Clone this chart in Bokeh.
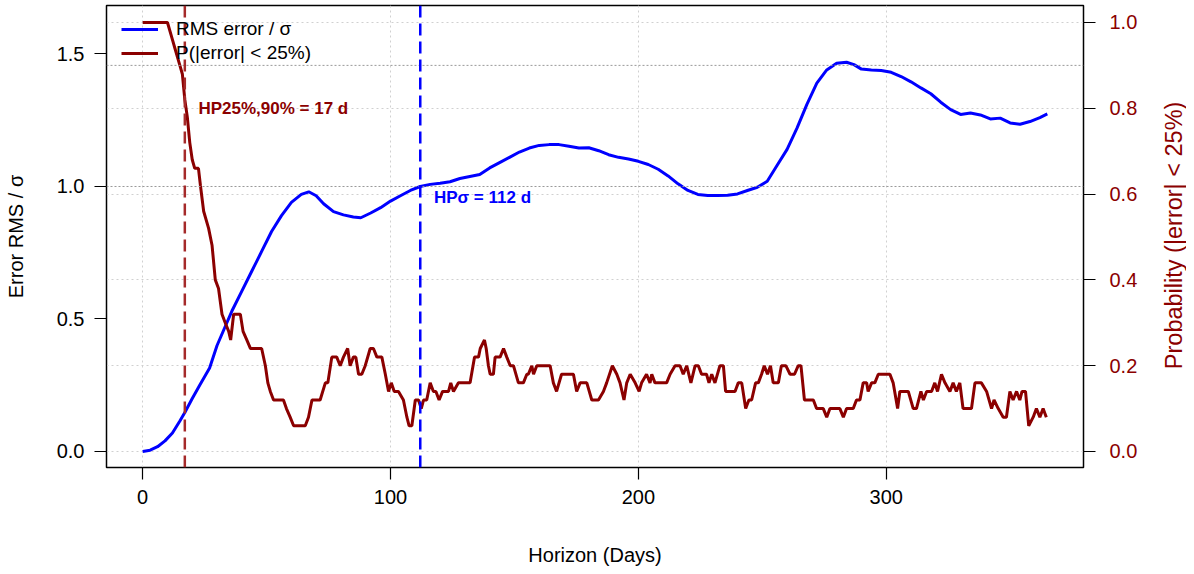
import math
from bokeh.plotting import figure
from bokeh.layouts import row
from bokeh.models import (Range1d, LinearAxis, FixedTicker, Span, Grid, Legend,
                          LegendItem, PrintfTickFormatter, Label)
from bokeh.embed import file_html
from bokeh.resources import INLINE

# ---------------- data ----------------
days_rms = [0, 3, 6, 9, 12, 15, 17, 20, 23, 27,
            30, 33, 36, 40, 44, 48, 52, 56, 60, 64,
            67, 70, 73, 77, 81, 85, 88, 92, 96, 100,
            104, 108, 112, 116, 120, 124, 128, 132, 136, 140,
            144, 148, 152, 156, 160, 164, 168, 172, 176, 180,
            184, 188, 192, 196, 200, 204, 208, 212, 216, 220,
            224, 228, 232, 236, 240, 244, 248, 252, 256, 260,
            264, 268, 272, 276, 280, 284, 287, 290, 294, 298,
            302, 306, 310, 314, 318, 322, 326, 330, 334, 338,
            342, 346, 350, 354, 358, 362, 365]
rms = [0.000, 0.005, 0.018, 0.040, 0.070, 0.115, 0.147, 0.200, 0.250, 0.315,
       0.400, 0.465, 0.530, 0.605, 0.680, 0.755, 0.830, 0.890, 0.940, 0.970,
       0.980, 0.965, 0.935, 0.905, 0.893, 0.885, 0.882, 0.900, 0.920, 0.945,
       0.965, 0.985, 1.000, 1.008, 1.012, 1.018, 1.030, 1.038, 1.045, 1.070,
       1.090, 1.110, 1.130, 1.145, 1.155, 1.158, 1.158, 1.152, 1.145, 1.146,
       1.135, 1.120, 1.110, 1.104, 1.095, 1.083, 1.065, 1.040, 1.010, 0.985,
       0.970, 0.966, 0.966, 0.967, 0.972, 0.985, 0.997, 1.020, 1.080, 1.140,
       1.220, 1.310, 1.390, 1.440, 1.465, 1.469, 1.460, 1.443, 1.440, 1.438,
       1.431, 1.415, 1.395, 1.372, 1.350, 1.318, 1.290, 1.272, 1.277, 1.270,
       1.255, 1.258, 1.240, 1.235, 1.245, 1.260, 1.274]

days_p = [0, 10, 12, 13, 14, 15, 16, 17, 18, 19,
          20, 21, 22.5, 23.3, 24.6, 26.6, 28, 29.3, 30.6, 32,
          33.3, 34.7, 35.5, 36.7, 39.4, 40.5, 42, 43.5, 48, 49.5,
          50.5, 51.5, 52.8, 56.8, 58, 59.5, 60.9, 65.6, 66.9, 68.3,
          71.6, 73.7, 74.7, 76.3, 78.3, 79.7, 81, 82.7, 83.7, 85,
          86, 87.1, 88.4, 89.8, 91.8, 93.1, 94.5, 96.5, 97.9, 99.2,
          100.3, 101.5, 103.2, 105.2, 106.6, 107.5, 108.6, 110, 111.3, 112.4,
          113.3, 114.6, 116, 117.3, 118.3, 119.6, 121, 123.4, 124.3, 125.4,
          127.4, 132.1, 133.9, 135.5, 136.2, 137.9, 138.6, 139.5, 140.2, 141.5,
          142.2, 144.2, 145.6, 146.9, 148.3, 149.6, 151.6, 153.6, 155, 155.6,
          157, 157.7, 159, 164.4, 165.7, 167, 169, 173.8, 175.1, 176.5,
          179.2, 181.2, 183.9, 185.9, 187.2, 189.5, 191.3, 192.6, 194.2, 195.3,
          196.7, 198.7, 200.3, 201.3, 203.3, 204.7, 205.4, 206.7, 211.4, 212.8,
          214.8, 216.8, 218.1, 219.5, 221.2, 222.9, 224.2, 225.5, 227.5, 228.5,
          229.6, 230.9, 232.9, 234.3, 235.2, 239, 240.3, 241.7, 243.3, 244.6,
          245.7, 247.3, 248.4, 249.7, 250.8, 252.1, 253.3, 254.4, 256.5, 257.7,
          259.5, 261.2, 263, 264.5, 265.6, 267, 270.6, 271.9, 274.6, 276,
          277.3, 281.3, 282.7, 284, 286.7, 288, 289.4, 290.7, 292.1, 292.7,
          294.1, 295.4, 296.8, 301.5, 302.8, 304.6, 305.5, 308.9, 310.9, 312.2,
          314, 315, 316.3, 318.3, 319.6, 320.7, 322.3, 323.7, 325.7, 327,
          328.3, 329.7, 331, 334.4, 335.8, 338.4, 340.5, 342.5, 343.5, 345.2,
          347.2, 348.5, 349.9, 351.2, 352.6, 353.9, 354.8, 356.2, 357.5, 359.3,
          360.6, 362, 363.3, 364.6]
prob = [1.00, 1.00, 0.96, 0.94, 0.92, 0.90, 0.88, 0.82, 0.78, 0.72,
        0.68, 0.66, 0.66, 0.62, 0.56, 0.52, 0.48, 0.40, 0.38, 0.32,
        0.30, 0.28, 0.26, 0.32, 0.32, 0.28, 0.26, 0.24, 0.24, 0.20,
        0.16, 0.14, 0.12, 0.12, 0.10, 0.08, 0.06, 0.06, 0.08, 0.12,
        0.12, 0.16, 0.16, 0.22, 0.22, 0.20, 0.22, 0.24, 0.20, 0.22,
        0.22, 0.18, 0.18, 0.20, 0.24, 0.24, 0.22, 0.22, 0.18, 0.14,
        0.16, 0.14, 0.14, 0.12, 0.08, 0.06, 0.06, 0.12, 0.12, 0.10,
        0.12, 0.12, 0.16, 0.14, 0.14, 0.12, 0.14, 0.14, 0.16, 0.14,
        0.16, 0.16, 0.22, 0.22, 0.24, 0.26, 0.24, 0.20, 0.18, 0.18,
        0.22, 0.22, 0.24, 0.22, 0.20, 0.20, 0.16, 0.16, 0.18, 0.18,
        0.20, 0.18, 0.20, 0.20, 0.16, 0.14, 0.18, 0.18, 0.14, 0.16,
        0.16, 0.12, 0.12, 0.14, 0.16, 0.20, 0.18, 0.16, 0.12, 0.16,
        0.18, 0.16, 0.14, 0.16, 0.18, 0.16, 0.18, 0.16, 0.16, 0.18,
        0.20, 0.20, 0.18, 0.20, 0.16, 0.20, 0.20, 0.18, 0.18, 0.16,
        0.18, 0.16, 0.20, 0.20, 0.14, 0.14, 0.16, 0.16, 0.10, 0.12,
        0.12, 0.16, 0.16, 0.18, 0.20, 0.18, 0.20, 0.16, 0.16, 0.20,
        0.20, 0.18, 0.18, 0.20, 0.20, 0.12, 0.12, 0.10, 0.10, 0.08,
        0.10, 0.10, 0.08, 0.10, 0.10, 0.12, 0.12, 0.16, 0.16, 0.14,
        0.16, 0.16, 0.18, 0.18, 0.16, 0.10, 0.14, 0.14, 0.10, 0.10,
        0.14, 0.12, 0.14, 0.14, 0.16, 0.14, 0.18, 0.16, 0.14, 0.16,
        0.14, 0.16, 0.10, 0.10, 0.16, 0.16, 0.14, 0.10, 0.12, 0.10,
        0.08, 0.08, 0.14, 0.12, 0.14, 0.12, 0.14, 0.14, 0.06, 0.08,
        0.10, 0.08, 0.10, 0.08]

hp_sigma = 112       # days, RMS/sigma reaches 1
hp_25 = 17           # days, P(|error|<25%) drops below 90 %
sigma_level = 1.0
prob_level = 0.9

x_ticks = [0, 100, 200, 300]
left_ticks = [0.0, 0.5, 1.0, 1.5]
right_ticks = [0.0, 0.2, 0.4, 0.6, 0.8, 1.0]

assert len(days_rms) == len(rms)
assert len(days_p) == len(prob)

# ---------------- figure ----------------
FONT = "Liberation Sans"
DARKRED = "#8b0000"
BORDER_TOP, FRAME_H, BORDER_BOTTOM = 5, 462, 98
TOTAL_H = BORDER_TOP + FRAME_H + BORDER_BOTTOM

p = figure(frame_width=977, frame_height=FRAME_H,
           min_border_left=106, min_border_right=77,
           min_border_top=BORDER_TOP, min_border_bottom=BORDER_BOTTOM,
           x_range=Range1d(-14.6, 379.6), y_range=Range1d(-0.0604, 1.683),
           output_backend="svg", toolbar_location=None)
p.extra_y_ranges = {"prob": Range1d(-0.0373, 1.0396)}
p.background_fill_color = "white"
p.border_fill_color = "white"
p.outline_line_color = "black"
p.outline_line_width = 1.5
p.outline_line_alpha = 1.0


def style_axis(ax, size="20px", color="black"):
    ax.major_tick_out = 12
    ax.major_tick_in = 0
    ax.minor_tick_out = 0
    ax.minor_tick_in = 0
    ax.axis_line_color = "black"
    ax.major_tick_line_color = "black"
    ax.major_tick_line_width = 1.2
    ax.major_label_text_font = FONT
    ax.major_label_text_font_size = size
    ax.major_label_text_color = color
    ax.axis_label_text_font = FONT
    ax.axis_label_text_font_size = size
    ax.axis_label_text_font_style = "normal"
    ax.axis_label_text_color = color


# bottom axis
xa = p.xaxis[0]
xa.ticker = FixedTicker(ticks=x_ticks)
xa.formatter = PrintfTickFormatter(format="%d")
xa.axis_label = "Horizon (Days)"
style_axis(xa)
xa.major_label_standoff = 10
xa.axis_label_standoff = 37

# left axis
ya = p.yaxis[0]
ya.ticker = FixedTicker(ticks=left_ticks)
ya.formatter = PrintfTickFormatter(format="%.1f")
ya.axis_label = "Error RMS / σ"
style_axis(ya)
ya.major_label_standoff = 10
ya.axis_label_standoff = 27

# right axis (title drawn in a narrow strip beside, reading bottom to top)
ra = LinearAxis(y_range_name="prob", ticker=FixedTicker(ticks=right_ticks),
                formatter=PrintfTickFormatter(format="%.1f"))
style_axis(ra, color=DARKRED)
ra.major_label_standoff = 14
p.add_layout(ra, "right")

# grids
p.xgrid.ticker = FixedTicker(ticks=x_ticks)
p.xgrid.grid_line_color = "#d0d0d0"
p.xgrid.grid_line_dash = "2 3"
p.xgrid.grid_line_width = 1
p.ygrid.visible = False
p.add_layout(Grid(dimension=1, ticker=FixedTicker(ticks=right_ticks),
                  y_range_name="prob", grid_line_color="#d0d0d0",
                  grid_line_dash="2 3", grid_line_width=1))

# reference levels
p.add_layout(Span(location=sigma_level, dimension="width", line_color="#999999",
                  line_dash="2 2", line_width=1))
p.add_layout(Span(location=prob_level, dimension="width", y_range_name="prob",
                  line_color="#999999", line_dash="2 2", line_width=1))

# curves
r1 = p.line(days_rms, rms, line_color="blue", line_width=3)
r2 = p.line(days_p, prob, line_color=DARKRED, line_width=3, y_range_name="prob")

# horizon markers
p.add_layout(Span(location=hp_25, dimension="height", line_color="#a52a2a",
                  line_dash="12 6", line_width=2.5))
p.add_layout(Span(location=hp_sigma, dimension="height", line_color="blue",
                  line_dash="12 6", line_width=2.5))

p.add_layout(Label(x=hp_25 + 5.5, y=0.8, y_range_name="prob",
                   text=f"HP25%,90% = {hp_25} d", text_font=FONT,
                   text_font_size="17px", text_font_style="bold",
                   text_color=DARKRED, text_baseline="middle"))
p.add_layout(Label(x=hp_sigma + 5.5, y=0.96,
                   text=f"HPσ = {hp_sigma} d", text_font=FONT,
                   text_font_size="17px", text_font_style="bold",
                   text_color="blue", text_baseline="middle"))

legend = Legend(items=[LegendItem(label="RMS error / σ", renderers=[r1]),
                       LegendItem(label="P(|error| < 25%)", renderers=[r2])],
                location=(15, 403), glyph_width=37, glyph_height=20,
                label_height=20, spacing=2, padding=6, margin=0,
                label_standoff=18, border_line_color=None,
                background_fill_alpha=0, label_text_font=FONT,
                label_text_font_size="19px", label_text_color="black")
p.add_layout(legend)

# narrow strip holding the right-axis title
q = figure(width=26, height=TOTAL_H, min_border=0, min_border_left=0,
           min_border_right=0, min_border_top=0, min_border_bottom=0,
           x_range=Range1d(0, 1), y_range=Range1d(0, TOTAL_H),
           x_axis_location=None, y_axis_location=None,
           output_backend="svg", toolbar_location=None)
q.outline_line_color = None
q.grid.visible = False
q.background_fill_color = "white"
q.border_fill_color = "white"
q.add_layout(Label(x=0.5, y=BORDER_BOTTOM + FRAME_H / 2 - 47,
                   text="Probability (|error| < 25%)", angle=math.pi / 2,
                   text_align="center", text_baseline="middle",
                   text_font=FONT, text_font_size="23.5px", text_color=DARKRED))

layout = row(p, q, spacing=0)
open("out.html", "w").write(file_html(layout, INLINE))
